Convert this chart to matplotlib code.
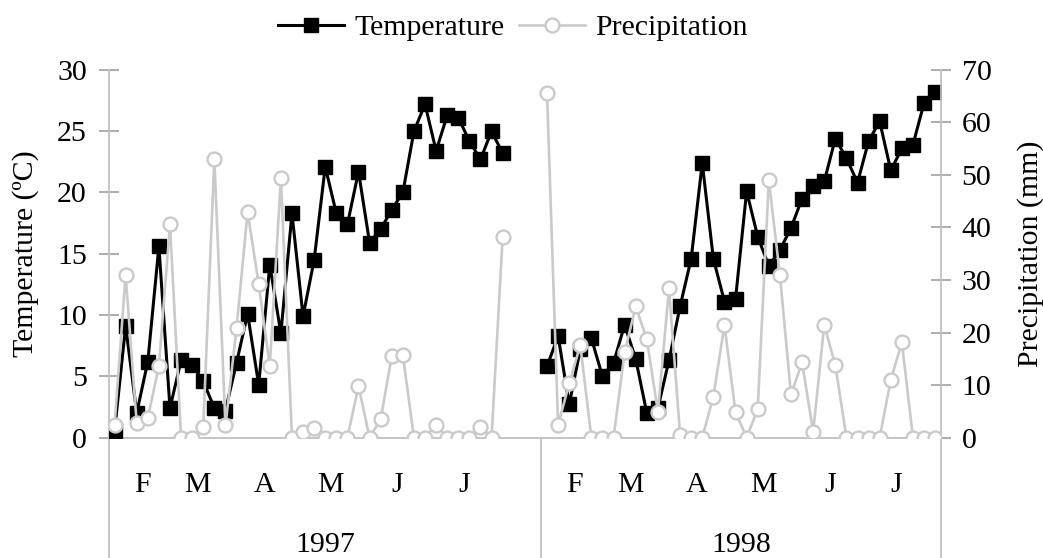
import numpy as np
import matplotlib.pyplot as plt
import matplotlib.transforms as mtransforms
from matplotlib.lines import Line2D

# --- data: 5-day values, Feb to July, two years ---
temp_1997 = [0.5, 9.1, 2.0, 6.2, 15.6, 2.4, 6.3, 5.9, 4.6, 2.4, 2.2, 6.1,
             10.1, 4.3, 14.1, 8.5, 18.3, 9.9, 14.5, 22.1, 18.3, 17.4, 21.7, 15.9,
             17.0, 18.6, 20.0, 25.0, 27.2, 23.4, 26.3, 26.1, 24.2, 22.7, 25.0, 23.2]
prec_1997 = [2.4, 31.0, 2.7, 3.7, 13.6, 40.6, 0, 0, 2.1, 53.0, 2.3, 20.8,
             43.0, 29.2, 13.6, 49.4, 0, 1.0, 1.8, 0, 0, 0, 9.8, 0,
             3.5, 15.5, 15.7, 0, 0, 2.4, 0, 0, 0, 2.0, 0, 38.2]
temp_1998 = [5.8, 8.3, 2.7, 7.2, 8.1, 5.0, 6.1, 9.2, 6.4, 2.0, 2.4, 6.3,
             10.7, 14.6, 22.4, 14.6, 11.1, 11.3, 20.1, 16.4, 14.0, 15.3, 17.1, 19.5,
             20.5, 20.9, 24.4, 22.8, 20.8, 24.2, 25.8, 21.8, 23.6, 23.9, 27.3, 28.2]
prec_1998 = [65.6, 2.4, 10.3, 17.6, 0, 0, 0, 16.2, 25.0, 18.7, 4.9, 28.4,
             0.5, 0, 0, 7.8, 21.4, 4.8, 0, 5.4, 49.0, 31.0, 8.2, 14.3,
             1.1, 21.4, 13.8, 0, 0, 0, 0, 11.0, 18.1, 0, 0, 0]

years = ['1997', '1998']
year_slots = [39, 36]          # categories per year on the axis
months = ['F', 'M', 'A', 'M', 'J', 'J']
month_centers = [2.5, 7.5, 13.5, 19.5, 25.5, 31.5]

plt.rcParams['font.family'] = ['Liberation Serif', 'DejaVu Serif']
FS = 21.5
GREY = '#cacaca'
AXC = '#bfbfbf'

fig = plt.figure(figsize=(10.43, 5.58), dpi=100)
ax = fig.add_axes([0.1045, 0.2159, 0.7974, 0.6587])
ax2 = ax.twinx()

x97 = np.arange(len(temp_1997))
x98 = year_slots[0] + np.arange(len(temp_1998))

for xs, t in [(x97, temp_1997), (x98, temp_1998)]:
    ax.plot(xs, t, color='black', lw=2.2, marker='s', ms=9.5,
            mfc='black', mec='black', zorder=3)
for xs, p in [(x97, prec_1997), (x98, prec_1998)]:
    ax2.plot(xs, p, color=GREY, lw=1.9, marker='o', ms=10,
             mfc='white', mec=GREY, mew=1.7, zorder=3)

total = sum(year_slots)
ax.set_xlim(-0.5, total - 0.5)
ax.set_ylim(0, 30)
ax2.set_ylim(0, 70)
ax.set_yticks(np.arange(0, 31, 5))
ax2.set_yticks(np.arange(0, 71, 10))
ax.set_xticks([])

for a in (ax, ax2):
    for s in a.spines.values():
        s.set_visible(False)
ax.spines['left'].set_visible(True)
ax.spines['bottom'].set_visible(True)
ax2.spines['right'].set_visible(True)
for s in (ax.spines['left'], ax.spines['bottom'], ax2.spines['right']):
    s.set_color(AXC)
    s.set_linewidth(1.3)
ax.spines['bottom'].set_zorder(0)

ax.tick_params(axis='y', direction='inout', length=14, width=1.2,
               color='#a0a0a0', labelsize=FS, pad=9)
ax2.tick_params(axis='y', direction='inout', length=14, width=1.2,
                color='#a0a0a0', labelsize=FS, pad=8)

ax.set_ylabel('Temperature (ºC)', fontsize=FS)
ax.yaxis.set_label_coords(-0.084, 0.5)
ax2.set_ylabel('Precipitation (mm)', fontsize=FS, rotation=90)
ax2.yaxis.set_label_coords(1.092, 0.5)

# category axis: year separators, month and year labels
trans = mtransforms.blended_transform_factory(ax.transData, ax.transAxes)
edges = [-0.5, year_slots[0] - 0.5, total - 0.5]
for e in edges:
    ax.plot([e, e], [0, -0.33], transform=trans, color=AXC, lw=1.3,
            clip_on=False)
start = 0
for yr, n in zip(years, year_slots):
    for m, c in zip(months, month_centers):
        ax.text(start + c, -0.128, m, transform=trans, ha='center',
                va='center', fontsize=FS)
    ax.text(start + (n - 1) / 2, -0.292, yr, transform=trans, ha='center',
            va='center', fontsize=FS)
    start += n

handles = [Line2D([], [], color='black', lw=2.2, marker='s', ms=9.5),
           Line2D([], [], color=GREY, lw=1.9, marker='o', ms=10,
                  mfc='white', mec=GREY, mew=1.7)]
fig.legend(handles, ['Temperature', 'Precipitation'], loc='center',
           bbox_to_anchor=(0.492, 0.950), ncol=2, frameon=False,
           fontsize=FS, handlelength=2.2, handletextpad=0.35,
           columnspacing=0.5)

fig.savefig('out.png', dpi=100)
